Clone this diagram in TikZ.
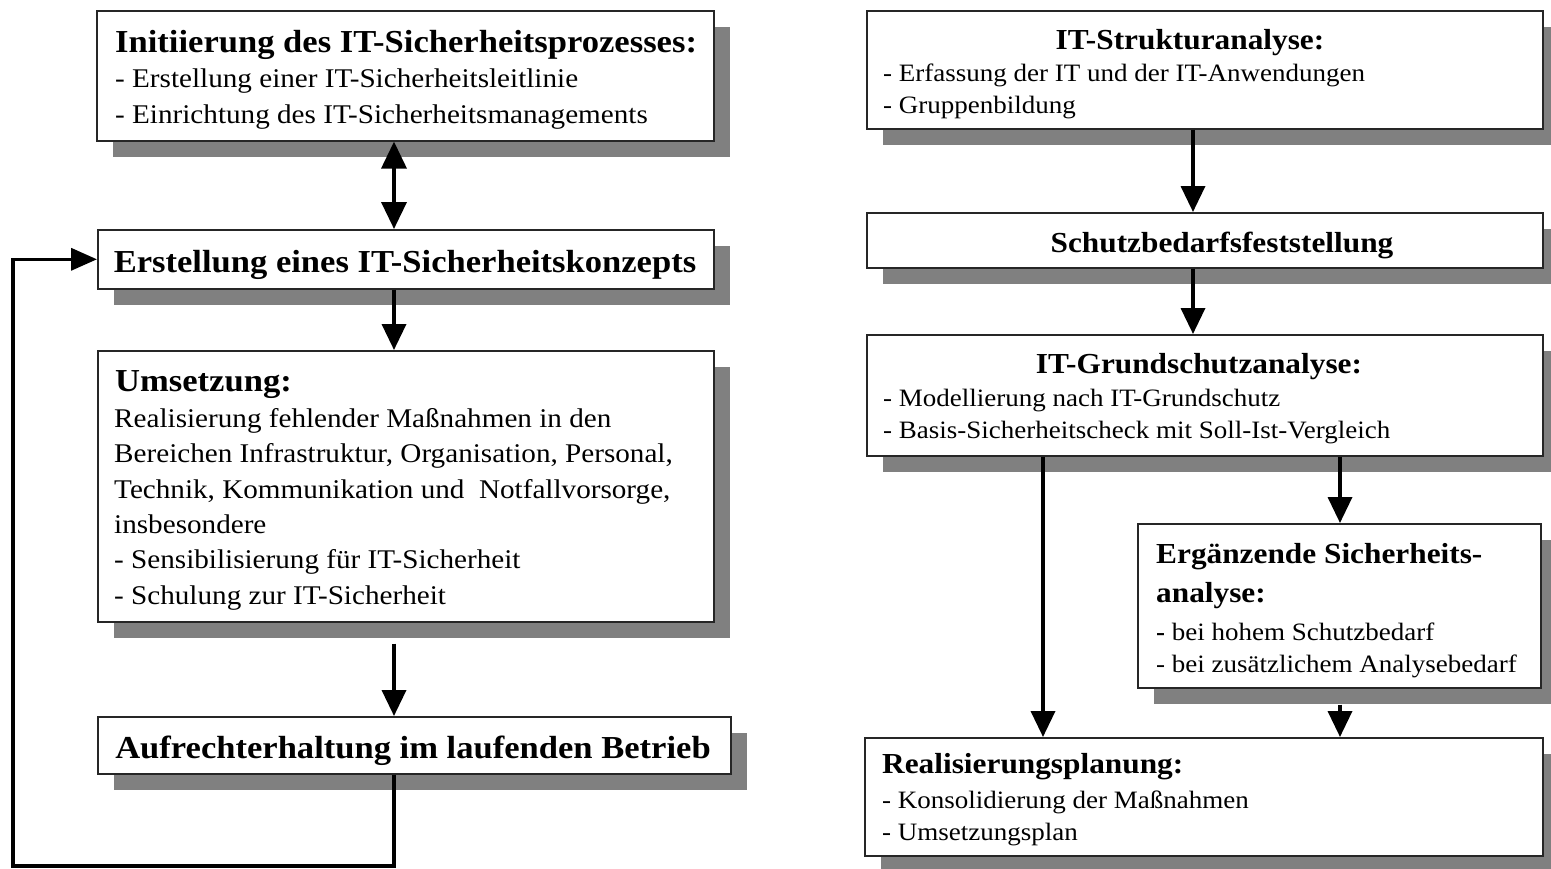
\documentclass[tikz,border=0pt]{standalone}
\usepackage{fontspec}
\setmainfont[FakeStretch=1.08]{Liberation Serif}
\usetikzlibrary{arrows.meta,shadows}
\begin{document}
\begin{tikzpicture}[x=1pt,y=-1pt,
  box/.style={draw=black!85, line width=1.6pt, fill=white, inner sep=0pt, anchor=north west,
    drop shadow={shadow xshift=16pt,shadow yshift=-16pt,fill=black!50,opacity=1}},
  arr/.style={line width=3.6pt, -{Triangle[length=26pt,width=24pt]}},
  darr/.style={line width=3.6pt, {Triangle[length=27pt,width=25pt]}-{Triangle[length=27pt,width=25pt]}},
  hd/.style={inner sep=0pt, anchor=base west, font=\bfseries\fontsize{32pt}{38pt}\selectfont},
  hdc/.style={hd, anchor=base},
  bd/.style={inner sep=0pt, anchor=base west, align=left, font=\fontsize{27pt}{35.3pt}\selectfont},
  hdr/.style={inner sep=0pt, anchor=base, font=\bfseries\fontsize{29pt}{39pt}\selectfont},
  hdrl/.style={hdr, anchor=base west, align=left},
  bdr/.style={inner sep=0pt, anchor=base west, align=left, font=\fontsize{25pt}{32pt}\selectfont}]
\useasboundingbox (0,0) rectangle (1551,868);

% boxes
\node[box, minimum width=617pt, minimum height=130pt] (B1) at (96,10) {};
\node[box, minimum width=616pt, minimum height=59pt] (B2) at (97,229) {};
\node[box, minimum width=616pt, minimum height=271pt] (B3) at (97,350) {};
\node[box, minimum width=633pt, minimum height=57pt] (B4) at (97,716) {};
\node[box, minimum width=676pt, minimum height=118pt] (B5) at (866,10) {};
\node[box, minimum width=676pt, minimum height=55pt] (B6) at (866,212) {};
\node[box, minimum width=676pt, minimum height=121pt] (B7) at (866,334) {};
\node[box, minimum width=403pt, minimum height=164pt] (B8) at (1137,523) {};
\node[box, minimum width=678pt, minimum height=118pt] (B9) at (864,737) {};

% texts left (multi-line nodes are placed by the baseline of their last line)
\node[hd] (T1h) at (115,52) {Initiierung des IT-Sicherheitsprozesses:};
\node[bd] (T1b) at (115,123) {- Erstellung einer IT-Sicherheitsleitlinie\\- Einrichtung des IT-Sicherheitsmanagements};
\node[hdc] (T2) at (405,272) {Erstellung eines IT-Sicherheitskonzepts};
\node[hd] (T3h) at (115,391) {Umsetzung:};
\node[bd] (T3b) at (114,604) {Realisierung fehlender Maßnahmen in den\\Bereichen Infrastruktur, Organisation, Personal,\\Technik, Kommunikation und\ \ Notfallvorsorge,\\insbesondere\\- Sensibilisierung für IT-Sicherheit\\- Schulung zur IT-Sicherheit};
\node[hdc] (T4) at (413,758) {Aufrechterhaltung im laufenden Betrieb};

% texts right
\node[hdr] (T5h) at (1190,49) {IT-Strukturanalyse:};
\node[bdr] (T5b) at (883,113) {- Erfassung der IT und der IT-Anwendungen\\- Gruppenbildung};
\node[hdr] (T6) at (1222,252) {Schutzbedarfsfeststellung};
\node[hdr] (T7h) at (1199,373) {IT-Grundschutzanalyse:};
\node[bdr] (T7b) at (883,438) {- Modellierung nach IT-Grundschutz\\- Basis-Sicherheitscheck mit Soll-Ist-Vergleich};
\node[hdrl] (T8h) at (1156,602) {Ergänzende Sicherheits-\\analyse:};
\node[bdr] (T8b) at (1156,672) {\textbf{-} bei hohem Schutzbedarf\\- bei zusätzlichem Analysebedarf};
\node[hdrl] (T9h) at (882,773) {Realisierungsplanung:};
\node[bdr] (T9b) at (882,840) {- Konsolidierung der Maßnahmen\\- Umsetzungsplan};

% connector columns
\coordinate (Lx) at (394,0);
\coordinate (Rx) at (1193,0);
\coordinate (Rl) at (1043,0);
\coordinate (Rr) at (1340,0);
\coordinate (LP) at (13,866);

\draw[darr] (B1.south -| Lx) -- (B2.north -| Lx);
\draw[arr] (B2.south -| Lx) -- (B3.north -| Lx);
\draw[arr, shorten <=21pt] (B3.south -| Lx) -- (B4.north -| Lx);
\draw[line width=3.6pt, -{Triangle[length=26pt,width=22pt]}] (B4.south -| Lx) |- (LP) |- (B2.west);

\draw[arr] (B5.south -| Rx) -- (B6.north -| Rx);
\draw[arr] (B6.south -| Rx) -- (B7.north -| Rx);
\draw[arr] (B7.south -| Rl) -- (B9.north -| Rl);
\draw[arr] (B7.south -| Rr) -- (B8.north -| Rr);
\draw[arr, shorten <=16pt] (B8.south -| Rr) -- (B9.north -| Rr);
\end{tikzpicture}
\end{document}
